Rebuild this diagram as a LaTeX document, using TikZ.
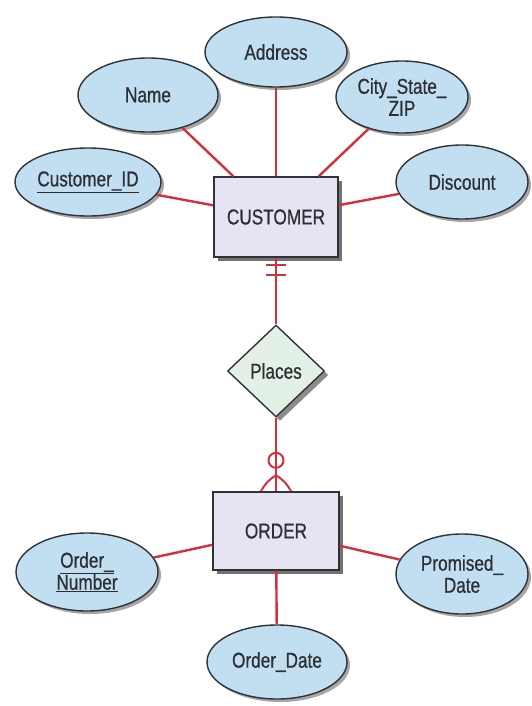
\documentclass[tikz,border=0pt]{standalone}
\usepackage{fontspec}
\setmainfont{Liberation Sans}[FakeStretch=0.8]
\usetikzlibrary{shapes.geometric,shadows}
\definecolor{attrfill}{HTML}{C2DFF1}
\definecolor{entfill}{HTML}{E6E4F3}
\definecolor{relfill}{HTML}{E2F0E6}
\definecolor{conn}{HTML}{D4303C}
\definecolor{edgec}{HTML}{2E3338}
\definecolor{txt}{HTML}{2C2F33}
\begin{document}
\begin{tikzpicture}[x=1pt,y=-1pt,
  base/.style={draw=edgec, line width=1.4pt, inner sep=0pt, text=txt, align=center,
    font=\fontsize{21.5}{22}\selectfont\addfontfeatures{FakeBold=0.7}},
  attr/.style={base, ellipse, fill=attrfill,
    drop shadow={shadow xshift=3pt, shadow yshift=-3pt, opacity=0.35, fill=black}},
  entity/.style={base, rectangle, fill=entfill, minimum width=124pt, minimum height=80pt,
    drop shadow={shadow xshift=4pt, shadow yshift=-4pt, opacity=0.55, fill=black}},
  relation/.style={base, diamond, fill=relfill, minimum width=97pt, minimum height=92pt,
    drop shadow={shadow xshift=4pt, shadow yshift=-4pt, opacity=0.45, fill=black}},
  conline/.style={draw=conn, line width=2.4pt}]
\useasboundingbox (0,0) rectangle (532,706);
% entities and relationship
\node[entity] (customer) at (276,217) {CUSTOMER};
\node[entity, minimum width=126pt, minimum height=78pt] (order) at (276,531) {ORDER};
\node[relation] (places) at (276,371) {Places};
% attributes
\node[attr, minimum width=142pt, minimum height=70pt] (address) at (276,52) {Address};
\node[attr, minimum width=140pt, minimum height=74pt] (name) at (148,95) {Name};
\node[attr, minimum width=132pt, minimum height=72pt] (city) at (402,97) {City\_State\_\\ZIP};
\node[attr, minimum width=146pt, minimum height=68pt] (custid) at (88,182) {\underline{Customer\_ID}};
\node[attr, minimum width=132pt, minimum height=74pt] (discount) at (462,182) {Discount};
\node[attr, minimum width=142pt, minimum height=78pt] (ordnum) at (87,572) {\underline{Order\_}\\\underline{Number}};
\node[attr, minimum width=132pt, minimum height=80pt] (promised) at (462,574) {Promised\_\\Date};
\node[attr, minimum width=140pt, minimum height=74pt] (orddate) at (277,662) {Order\_Date};
% connectors
\draw[conline] (customer) -- (address);
\draw[conline] (customer) -- (name);
\draw[conline] (customer) -- (city);
\draw[conline] (customer) -- (custid);
\draw[conline] (customer) -- (discount);
\draw[conline] (order) -- (ordnum);
\draw[conline] (order) -- (promised);
\draw[conline] (order) -- (orddate);
\draw[conline] (customer.south) -- (places.north);
\draw[conline] (places.south) -- (order.north);
% cardinality: exactly one at CUSTOMER
\path (customer.south) ++(0,7) coordinate (bar1);
\path (customer.south) ++(0,17) coordinate (bar2);
\draw[conline, line width=2pt] (bar1) ++(-10,0) -- ++(20,0);
\draw[conline, line width=2pt] (bar2) ++(-10,0) -- ++(20,0);
% cardinality: zero or many at ORDER
\path (order.north) ++(0,-31) coordinate (zc);
\draw[conline, line width=2pt] (zc) circle (7.5pt);
\path (order.north) ++(0,-16) coordinate (apex);
\path (order.north) ++(-15,0) coordinate (footl);
\path (order.north) ++(15,0) coordinate (footr);
\draw[conline, line width=2pt] (apex) to[bend right=15] (footl);
\draw[conline, line width=2pt] (apex) to[bend left=15] (footr);
\end{tikzpicture}
\end{document}
